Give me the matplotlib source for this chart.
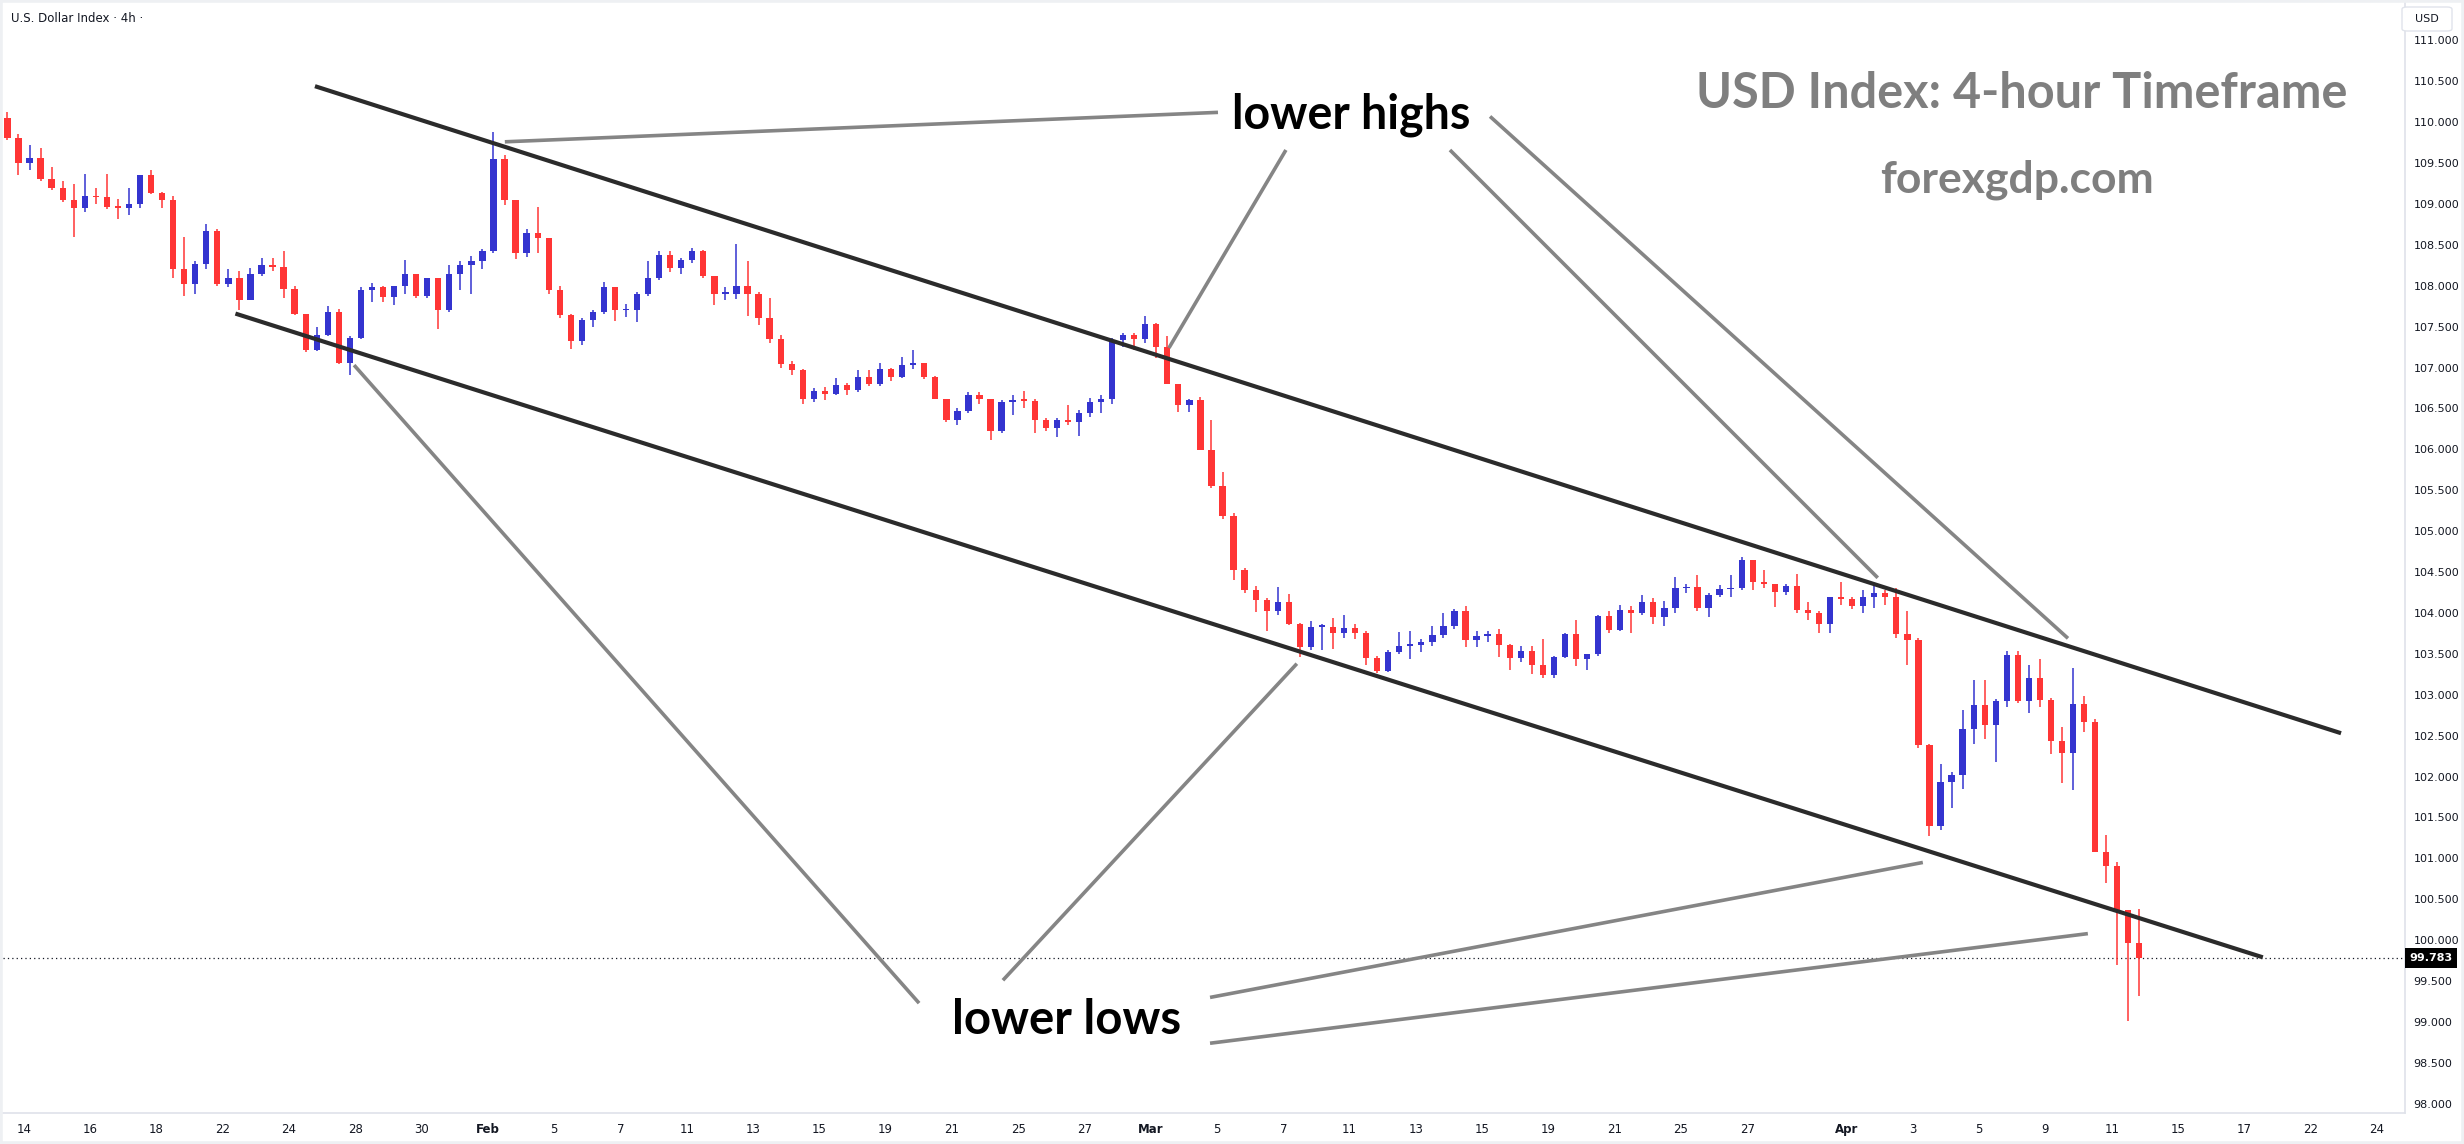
import numpy as np
import matplotlib
matplotlib.use('Agg')
import matplotlib.pyplot as plt
from matplotlib.patches import Rectangle, FancyBboxPatch

W, H, DPI = 2464, 1144, 100
RED, BLUE = '#ff3535', '#3434cf'
INK = '#131722'

# ── data: 3 candles per trading day, x = trading day (0 = "14" Jan) ─────────
first_open = 110.05
highs = [110.12, 109.86,
         109.72, 109.68, 109.45,  109.28, 109.25, 109.37,  109.20, 109.37, 109.06,
         109.20, 109.36, 109.42,  109.15, 109.10, 108.60,  108.30, 108.75, 108.70,
         108.20, 108.18, 108.22,  108.34, 108.34, 108.43,  108.00, 107.66, 107.50,
         107.75, 107.72, 107.38,  107.98, 108.03, 108.00,  108.00, 108.31, 108.15,
         108.10, 108.10, 108.25,  108.30, 108.37, 108.45,  109.88, 109.60, 109.05,
         108.70, 108.96, 108.58,  108.00, 107.66, 107.60,  107.70, 108.05, 107.98,
         107.78, 107.92, 108.30,  108.42, 108.43, 108.34,  108.46, 108.44, 108.12,
         107.98, 108.51, 108.30,  107.92, 107.85, 107.40,  107.08, 106.98, 106.75,
         106.76, 106.87, 106.81,  106.97, 106.97, 107.06,  106.99, 107.13, 107.21,
         107.06, 106.90, 106.62,  106.50, 106.70, 106.70,  106.62, 106.60, 106.66,
         106.71, 106.62, 106.38,  106.38, 106.54, 106.48,  106.63, 106.66, 107.36,
         107.42, 107.42, 107.63,  107.55, 107.38, 106.79,  106.62, 106.64, 106.36,
         105.72, 105.22, 104.55,  104.33, 104.18, 104.32,  104.23, 103.88, 103.90,
         103.86, 103.94, 103.97,  103.86, 103.78, 103.47,  103.55, 103.77, 103.78,
         103.68, 103.84, 104.00,  104.05, 104.08, 103.78,  103.78, 103.80, 103.62,
         103.60, 103.60, 103.68,  103.48, 103.76, 103.91,  103.50, 103.98, 104.03,
         104.10, 104.08, 104.22,  104.18, 104.15, 104.44,  104.36, 104.47, 104.24,
         104.34, 104.46, 104.68,  104.65, 104.53, 104.36,  104.36, 104.48, 104.13,
         104.03, 104.20, 104.38,  104.20, 104.28, 104.36,  104.28, 104.30, 104.02,
         103.70, 102.40, 102.15,  102.05, 102.81, 103.18,  103.18, 102.95, 103.53,
         103.54, 103.36, 103.44,  102.96, 102.61, 103.33,  102.98, 102.70, 101.29,
         100.95, 100.37, 100.38]
lows = [109.78, 109.35,
        109.42, 109.28, 109.17,  109.03, 108.60, 108.90,  109.00, 108.94, 108.82,
        108.87, 108.95, 109.12,  108.95, 108.10, 107.88,  107.90, 108.20, 108.00,
        107.98, 107.70, 107.83,  108.12, 108.18, 107.85,  107.64, 107.19, 107.20,
        107.38, 107.04, 106.91,  107.35, 107.80, 107.80,  107.76, 107.90, 107.85,
        107.85, 107.47, 107.68,  107.95, 107.90, 108.20,  108.40, 108.99, 108.33,
        108.35, 108.40, 107.90,  107.60, 107.23, 107.28,  107.50, 107.65, 107.57,
        107.62, 107.56, 107.88,  108.07, 108.17, 108.15,  108.28, 108.10, 107.76,
        107.82, 107.84, 107.63,  107.52, 107.30, 107.00,  106.91, 106.55, 106.58,
        106.60, 106.66, 106.66,  106.70, 106.78, 106.78,  106.83, 106.87, 106.98,
        106.86, 106.61, 106.34,  106.30, 106.45, 106.55,  106.12, 106.20, 106.42,
        106.50, 106.20, 106.22,  106.15, 106.30, 106.16,  106.40, 106.45, 106.55,
        107.25, 107.22, 107.30,  107.12, 106.80, 106.46,  106.46, 105.99, 105.53,
        105.15, 104.40, 104.25,  104.01, 103.78, 103.98,  103.85, 103.46, 103.55,
        103.55, 103.56, 103.70,  103.68, 103.37, 103.26,  103.28, 103.50, 103.44,
        103.52, 103.60, 103.70,  103.80, 103.58, 103.58,  103.64, 103.46, 103.30,
        103.40, 103.25, 103.20,  103.20, 103.45, 103.35,  103.30, 103.48, 103.75,
        103.78, 103.76, 103.98,  103.87, 103.84, 104.00,  104.25, 104.03, 103.95,
        104.19, 104.19, 104.28,  104.28, 104.30, 104.07,  104.22, 104.00, 103.91,
        103.76, 103.75, 104.10,  104.05, 104.00, 104.06,  104.10, 103.70, 103.36,
        102.35, 101.27, 101.35,  101.62, 101.85, 102.40,  102.46, 102.18, 102.85,
        102.90, 102.78, 102.85,  102.28, 101.92, 101.84,  102.55, 101.08, 100.70,
        99.70, 99.01, 99.32]
closes = [109.81, 109.50,
          109.56, 109.30, 109.20,  109.05, 108.95, 109.10,  109.08, 108.96, 108.95,
          109.00, 109.36, 109.14,  109.05, 108.20, 108.02,  108.27, 108.67, 108.02,
          108.10, 107.83, 108.15,  108.26, 108.23, 107.96,  107.66, 107.21, 107.40,
          107.68, 107.06, 107.36,  107.95, 107.98, 107.86,  108.00, 108.14, 107.87,
          108.10, 107.70, 108.15,  108.25, 108.30, 108.42,  109.55, 109.05, 108.40,
          108.65, 108.58, 107.95,  107.64, 107.33, 107.58,  107.68, 107.98, 107.70,
          107.70, 107.90, 108.09,  108.38, 108.22, 108.32,  108.42, 108.12, 107.90,
          107.90, 108.00, 107.90,  107.61, 107.35, 107.04,  106.97, 106.62, 106.71,
          106.68, 106.79, 106.72,  106.88, 106.80, 106.98,  106.89, 107.03, 107.06,
          106.88, 106.61, 106.36,  106.47, 106.67, 106.62,  106.23, 106.58, 106.60,
          106.59, 106.36, 106.26,  106.36, 106.33, 106.44,  106.58, 106.61, 107.34,
          107.40, 107.35, 107.53,  107.25, 106.80, 106.54,  106.60, 105.99, 105.55,
          105.18, 104.52, 104.28,  104.16, 104.03, 104.13,  103.86, 103.59, 103.83,
          103.83, 103.75, 103.82,  103.76, 103.45, 103.29,  103.52, 103.60, 103.61,
          103.65, 103.73, 103.84,  104.03, 103.67, 103.72,  103.74, 103.61, 103.45,
          103.54, 103.36, 103.24,  103.46, 103.74, 103.44,  103.50, 103.96, 103.79,
          104.04, 104.00, 104.14,  103.95, 104.06, 104.30,  104.32, 104.06, 104.22,
          104.29, 104.30, 104.65,  104.38, 104.35, 104.26,  104.33, 104.04, 104.00,
          103.86, 104.19, 104.17,  104.09, 104.20, 104.25,  104.20, 103.74, 103.67,
          102.39, 101.39, 101.93,  102.02, 102.58, 102.88,  102.63, 102.92, 103.49,
          102.92, 103.20, 102.94,  102.44, 102.29, 102.89,  102.67, 101.08, 100.91,
          100.37, 99.97, 99.783]
first_pos = -0.5          # first candle sits half a day before the "14" label
last_price = 99.783

# x-axis labels (trading-day index, text)
tick_days = [0, 2, 4, 6, 8, 10, 12, 14, 16, 18, 20, 22, 24, 26, 28, 30, 32, 34,
             36, 38, 40, 42, 44, 46, 48, 50, 52, 55, 57, 59, 61, 63, 65, 67, 69, 71]
tick_text = ['14', '16', '18', '22', '24', '28', '30', 'Feb', '5', '7', '11', '13',
             '15', '19', '21', '25', '27', 'Mar', '5', '7', '11', '13', '15', '19',
             '21', '25', '27', 'Apr', '3', '5', '9', '11', '15', '17', '22', '24']
price_ticks = np.arange(98.0, 111.01, 0.5)

# drawn channel (day, price) and annotation pointers
upper_line = ([8.78, 69.92], [110.44, 102.53])
lower_line = ([6.38, 67.56], [107.66, 99.79])
pointers = [
    ([14.51, 36.03], [109.76, 110.12]),
    ([34.55, 38.08], [107.24, 109.66]),
    ([43.03, 55.94], [109.66, 104.43]),
    ([44.24, 61.68], [110.07, 103.69]),
    ([9.96, 27.01], [107.03, 99.23]),
    ([29.54, 38.41], [99.51, 103.38]),
    ([35.79, 57.30], [99.30, 100.95]),
    ([35.79, 62.28], [98.74, 100.08]),
]

# ── figure ──────────────────────────────────────────────────────────────────
def fx(x): return x / W
def fy(y): return 1 - y / H

fig = plt.figure(figsize=(W / DPI, H / DPI), dpi=DPI, facecolor='white')
fig.patches.append(Rectangle((0, 0), 1, 1, transform=fig.transFigure, fill=False,
                             edgecolor='#eef0f3', lw=4))
L, R, T, B = 3, 2405, 3, 1113
ax = fig.add_axes([fx(L), fy(B), fx(R) - fx(L), fy(T) - fy(B)])
ax.set_xlim(-0.634, 71.85)
ax.set_ylim(97.887, 111.457)
for s in ('top', 'left'):
    ax.spines[s].set_visible(False)
for s in ('bottom', 'right'):
    ax.spines[s].set_color('#dfe2ea')
    ax.spines[s].set_linewidth(1.2)

# candles
closes = np.array(closes); highs = np.array(highs); lows = np.array(lows)
opens = np.r_[first_open, closes[:-1]]
xpos = first_pos + np.arange(len(closes)) / 3.0
col = np.where(closes >= opens, BLUE, RED)
top = np.maximum(highs, np.maximum(opens, closes))
bot = np.minimum(lows, np.minimum(opens, closes))
ax.vlines(xpos, bot, top, colors=col, lw=1.1, zorder=3)
ax.bar(xpos, np.maximum(np.abs(closes - opens), 0.02), bottom=np.minimum(opens, closes),
       width=0.19, color=col, linewidth=0, zorder=4)

# last price dotted line
ax.axhline(last_price, color=INK, lw=0.9, ls=(0, (1, 2.5)), zorder=2)

# channel + pointers
for xs, ys in (upper_line, lower_line):
    ax.plot(xs, ys, color='#2b2b2b', lw=3.0, solid_capstyle='butt', zorder=6)
for xs, ys in pointers:
    ax.plot(xs, ys, color='#858585', lw=2.6, solid_capstyle='butt', zorder=6)

# axes ticks
ax.set_xticks(tick_days)
ax.set_xticklabels(tick_text)
for lab in ax.get_xticklabels():
    lab.set_fontsize(8.5)
    lab.set_color(INK)
    if lab.get_text() in ('Feb', 'Mar', 'Apr'):
        lab.set_fontweight('bold')
ax.tick_params(axis='x', length=0, pad=7)
ax.yaxis.tick_right()
ax.set_yticks(price_ticks)
ax.set_yticklabels([f'{v:.3f}' for v in price_ticks])
ax.tick_params(axis='y', length=0, pad=6, labelsize=8, labelcolor=INK)

# price label box and currency box
fig.patches.append(Rectangle((fx(2405), fy(968)), fx(52), 20 / H, transform=fig.transFigure,
                             facecolor='black', edgecolor='none', zorder=10))
fig.text(fx(2431), fy(958), f'{last_price:.3f}', color='white', fontsize=8,
         fontweight='bold', ha='center', va='center', zorder=11)
fig.patches.append(FancyBboxPatch((fx(2402), fy(31)), fx(50), 24 / H,
                                  boxstyle='round,pad=0,rounding_size=0.002',
                                  transform=fig.transFigure, facecolor='white',
                                  edgecolor='#e0e3eb', lw=1, zorder=10))
fig.text(fx(2427), fy(19), 'USD', color=INK, fontsize=8, ha='center', va='center', zorder=11)

# texts
fig.text(fx(11), fy(18), 'U.S. Dollar Index · 4h ·', fontsize=8.5, color=INK,
         ha='left', va='center')
fig.text(fx(2022), fy(94), 'USD Index: 4-hour Timeframe', fontsize=35, color='#7f7f7f',
         fontweight='bold', family='Lato', ha='center', va='center')
fig.text(fx(2017), fy(180), 'forexgdp.com', fontsize=32, color='#7f7f7f',
         fontweight='bold', family='Lato', ha='center', va='center')
fig.text(fx(1351), fy(115), 'lower highs', fontsize=33.5, color='black',
         fontweight='bold', family='Lato', ha='center', va='center')
fig.text(fx(1067), fy(1020), 'lower lows', fontsize=34, color='black',
         fontweight='bold', family='Lato', ha='center', va='center')

fig.savefig('out.png', dpi=DPI, facecolor='white')
